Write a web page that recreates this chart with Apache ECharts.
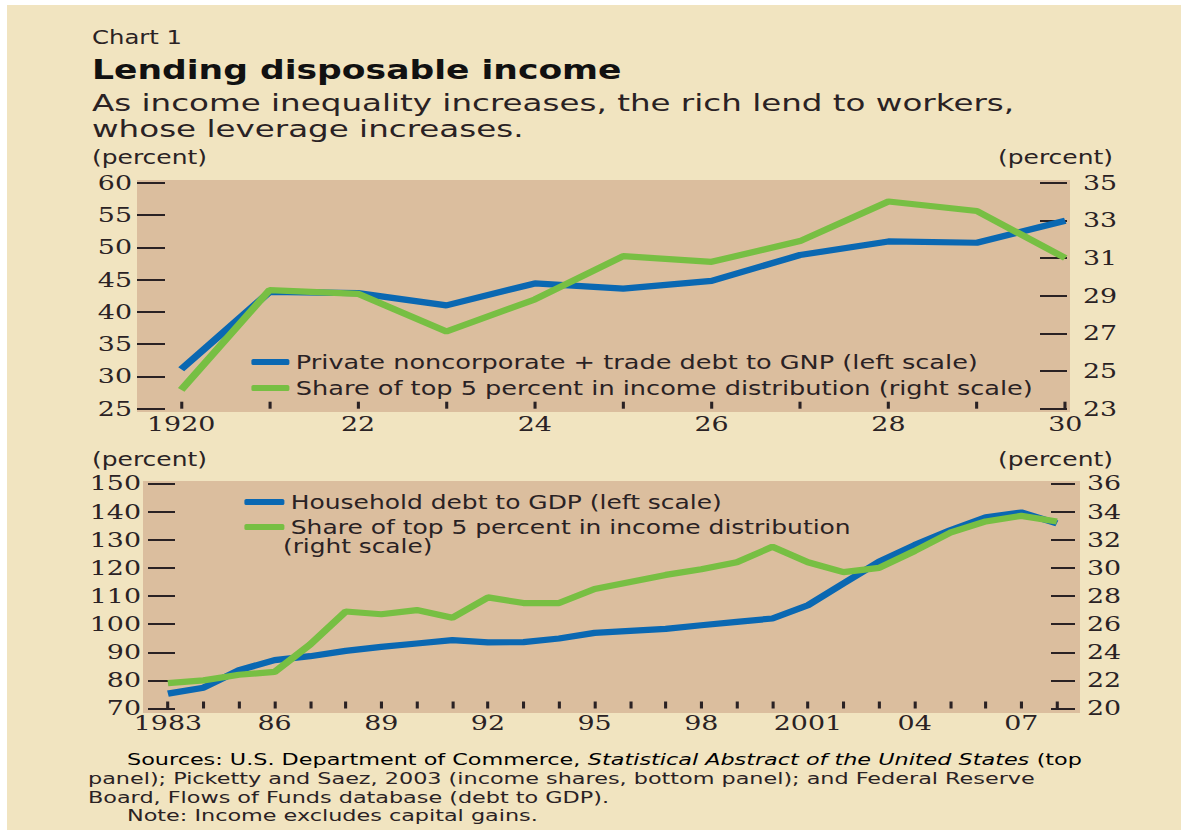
<!DOCTYPE html>
<html>
<head>
<meta charset="utf-8">
<title>Lending disposable income</title>
<script src="https://cdn.jsdelivr.net/npm/echarts@6/dist/echarts.min.js"></script>
<style>
  html, body { margin: 0; padding: 0; background: #fff; overflow: hidden; }
  /* the printed chart is set wide, so the whole drawing is stretched sideways */
  #main { height: 831px; transform-origin: 0 0; }
</style>
</head>
<body>
<div id="main"></div>
<script>
// top panel, 1920-30
var yearsTop = [1920, 1921, 1922, 1923, 1924, 1925, 1926, 1927, 1928, 1929, 1930];
var debtToGnp = [31.1, 43.1, 42.9, 41.0, 44.4, 43.6, 44.8, 48.8, 50.9, 50.7, 54.1];
var top5Top = [24.0, 29.3, 29.1, 27.1, 28.8, 31.1, 30.8, 31.9, 34.0, 33.5, 31.0];
var labelsTop = [1920, 1922, 1924, 1926, 1928, 1930];

// bottom panel, 1983-2008
var yearsBottom = [1983, 1984, 1985, 1986, 1987, 1988, 1989, 1990, 1991, 1992, 1993, 1994, 1995,
  1996, 1997, 1998, 1999, 2000, 2001, 2002, 2003, 2004, 2005, 2006, 2007, 2008];
var debtToGdp = [75.3, 77.4, 83.6, 87.2, 88.6, 90.5, 91.9, 93.1, 94.3, 93.5, 93.6, 94.9, 96.9,
  97.6, 98.3, 99.6, 100.8, 102.0, 106.7, 114.5, 122.2, 128.1, 133.4, 138.0, 139.7, 135.8];
var top5Bottom = [21.8, 22.0, 22.4, 22.6, 24.55, 26.9, 26.7, 27.0, 26.45, 27.9, 27.5, 27.5, 28.5,
  29.0, 29.5, 29.9, 30.4, 31.5, 30.4, 29.7, 30.0, 31.2, 32.5, 33.3, 33.7, 33.3];
var labelsBottom = [1983, 1986, 1989, 1992, 1995, 1998, 2001, 2004, 2007];

var ink = '#2a2224';
var blue = '#0a68b2';
var green = '#77bf43';
var cream = '#f1e4c0';
var plotBg = '#dbbe9e';
var sans = '"DejaVu Sans", sans-serif';
var serif = '"DejaVu Serif", serif';

// horizontal stretch of the page; x positions below are given in page pixels
var SX = 1.28;
function px(x) { return x / SX; }

var el = document.getElementById('main');
el.style.width = px(1181) + 'px';
el.style.transform = 'scaleX(' + SX + ')';

function pairs(xs, ys) {
  return xs.map(function (x, i) { return [x, ys[i]]; });
}

var tickLabel = { fontFamily: serif, fontSize: 21, color: ink };

function yAxisOf(grid, pos, min, max, step, len, margin) {
  return {
    gridIndex: grid, type: 'value', position: pos, min: min, max: max, interval: step,
    axisLine: { show: false }, splitLine: { show: false },
    axisTick: { inside: true, length: px(len), lineStyle: { color: ink, width: 2 } },
    axisLabel: Object.assign({ margin: px(margin) }, tickLabel)
  };
}

// text placed at page x, optionally widened a little more
function label(text, x, y, font, align, wide) {
  return {
    type: 'text', z: 10, x: px(x), y: y, scaleX: wide || 1,
    style: { text: text, x: 0, y: 0, textAlign: align || 'left', textVerticalAlign: 'middle', font: font, fill: ink }
  };
}

var noteFont = '16px ' + sans;
var noteWide = 1.09;

var chart = echarts.init(el, null, { renderer: 'svg' });

chart.setOption({
  backgroundColor: '#fff',
  animation: false,
  graphic: [
    { type: 'rect', z: -10, shape: { x: px(7), y: 5, width: px(1174), height: 825 }, style: { fill: cream } },
    { type: 'rect', z: -9, shape: { x: px(137), y: 180, width: px(933), height: 232 }, style: { fill: plotBg } },
    { type: 'rect', z: -9, shape: { x: px(143), y: 481, width: px(937), height: 232 }, style: { fill: plotBg } },
    label('Chart 1', 92, 37, '19px ' + sans),
    {
      type: 'text', z: 10, x: px(92), y: 69,
      style: { text: 'Lending disposable income', x: 0, y: 0, textVerticalAlign: 'middle', font: 'bold 27px ' + sans, fill: '#111' }
    },
    label('As income inequality increases, the rich lend to workers,', 92, 103, '22.5px ' + sans, 'left', 1.13),
    label('whose leverage increases.', 92, 129, '22.5px ' + sans, 'left', 1.13),
    label('(percent)', 92, 157, '19.5px ' + sans),
    label('(percent)', 1113, 157, '19.5px ' + sans, 'right'),
    label('(percent)', 92, 459, '19.5px ' + sans),
    label('(percent)', 1113, 459, '19.5px ' + sans, 'right'),
    label('(right scale)', 283, 546, '19px ' + sans, 'left', 1.02),
    {
      type: 'text', z: 10, x: px(127), y: 760, scaleX: noteWide,
      style: {
        text: '{r|Sources: U.S. Department of Commerce, }{i|Statistical Abstract of the United States}{r| (top}',
        x: 0, y: 0, textVerticalAlign: 'middle',
        rich: {
          r: { fontFamily: sans, fontSize: 16, color: ink },
          i: { fontFamily: sans, fontSize: 16, fontStyle: 'italic', color: ink }
        }
      }
    },
    label('panel); Picketty and Saez, 2003 (income shares, bottom panel); and Federal Reserve', 88, 779, noteFont, 'left', noteWide),
    label('Board, Flows of Funds database (debt to GDP).', 88, 797.5, noteFont, 'left', noteWide),
    label('Note: Income excludes capital gains.', 127, 816, noteFont, 'left', noteWide)
  ],
  grid: [
    { left: px(137), top: 182.7, width: px(930), height: 226 },
    { left: px(148), top: 483.5, width: px(927), height: 225 }
  ],
  legend: [
    {
      left: px(245), top: 345, orient: 'vertical', icon: 'roundRect',
      itemWidth: px(38), itemHeight: 6, itemGap: 2, selectedMode: false,
      textStyle: { fontFamily: sans, fontSize: 20, lineHeight: 24, color: ink },
      data: ['Private noncorporate + trade debt to GNP (left scale)', 'Share of top 5 percent in income distribution (right scale)']
    },
    {
      left: px(238), top: 487, orient: 'vertical', icon: 'roundRect',
      itemWidth: px(40), itemHeight: 6, itemGap: 5, selectedMode: false,
      textStyle: { fontFamily: sans, fontSize: 19.5, lineHeight: 20, color: ink },
      data: ['Household debt to GDP (left scale)', 'Share of top 5 percent in income distribution']
    }
  ],
  xAxis: [
    {
      gridIndex: 0, type: 'value', min: 1919.5, max: 1930.02,
      axisLine: { show: false }, splitLine: { show: false },
      axisTick: { inside: true, length: 7, customValues: yearsTop, lineStyle: { color: ink, width: 2.4 } },
      axisLabel: Object.assign({
        margin: 5, customValues: labelsTop,
        formatter: function (v) { return v === 1920 ? '1920' : String(v).slice(2); }
      }, tickLabel)
    },
    {
      gridIndex: 1, type: 'value', min: 1982.44, max: 2008.51,
      axisLine: { show: false }, splitLine: { show: false },
      axisTick: { inside: true, length: 7, customValues: yearsBottom, lineStyle: { color: ink, width: 2.4 } },
      axisLabel: Object.assign({
        margin: 4, customValues: labelsBottom,
        formatter: function (v) { return (v === 1983 || v === 2001) ? String(v) : String(v).slice(2); }
      }, tickLabel)
    }
  ],
  yAxis: [
    yAxisOf(0, 'left', 25, 60, 5, 28, 5),
    yAxisOf(0, 'right', 23, 35, 2, 27, 16),
    yAxisOf(1, 'left', 70, 150, 10, 27, 7),
    yAxisOf(1, 'right', 20, 36, 2, 24, 12)
  ],
  series: [
    {
      name: 'Private noncorporate + trade debt to GNP (left scale)', type: 'line',
      xAxisIndex: 0, yAxisIndex: 0, symbol: 'none', color: blue,
      lineStyle: { width: 6.2, color: blue }, data: pairs(yearsTop, debtToGnp)
    },
    {
      name: 'Share of top 5 percent in income distribution (right scale)', type: 'line',
      xAxisIndex: 0, yAxisIndex: 1, symbol: 'none', color: green,
      lineStyle: { width: 6.2, color: green }, data: pairs(yearsTop, top5Top)
    },
    {
      name: 'Household debt to GDP (left scale)', type: 'line',
      xAxisIndex: 1, yAxisIndex: 2, symbol: 'none', color: blue,
      lineStyle: { width: 6.2, color: blue }, data: pairs(yearsBottom, debtToGdp)
    },
    {
      name: 'Share of top 5 percent in income distribution', type: 'line',
      xAxisIndex: 1, yAxisIndex: 3, symbol: 'none', color: green,
      lineStyle: { width: 6.2, color: green }, data: pairs(yearsBottom, top5Bottom)
    }
  ]
});
</script>
</body>
</html>
